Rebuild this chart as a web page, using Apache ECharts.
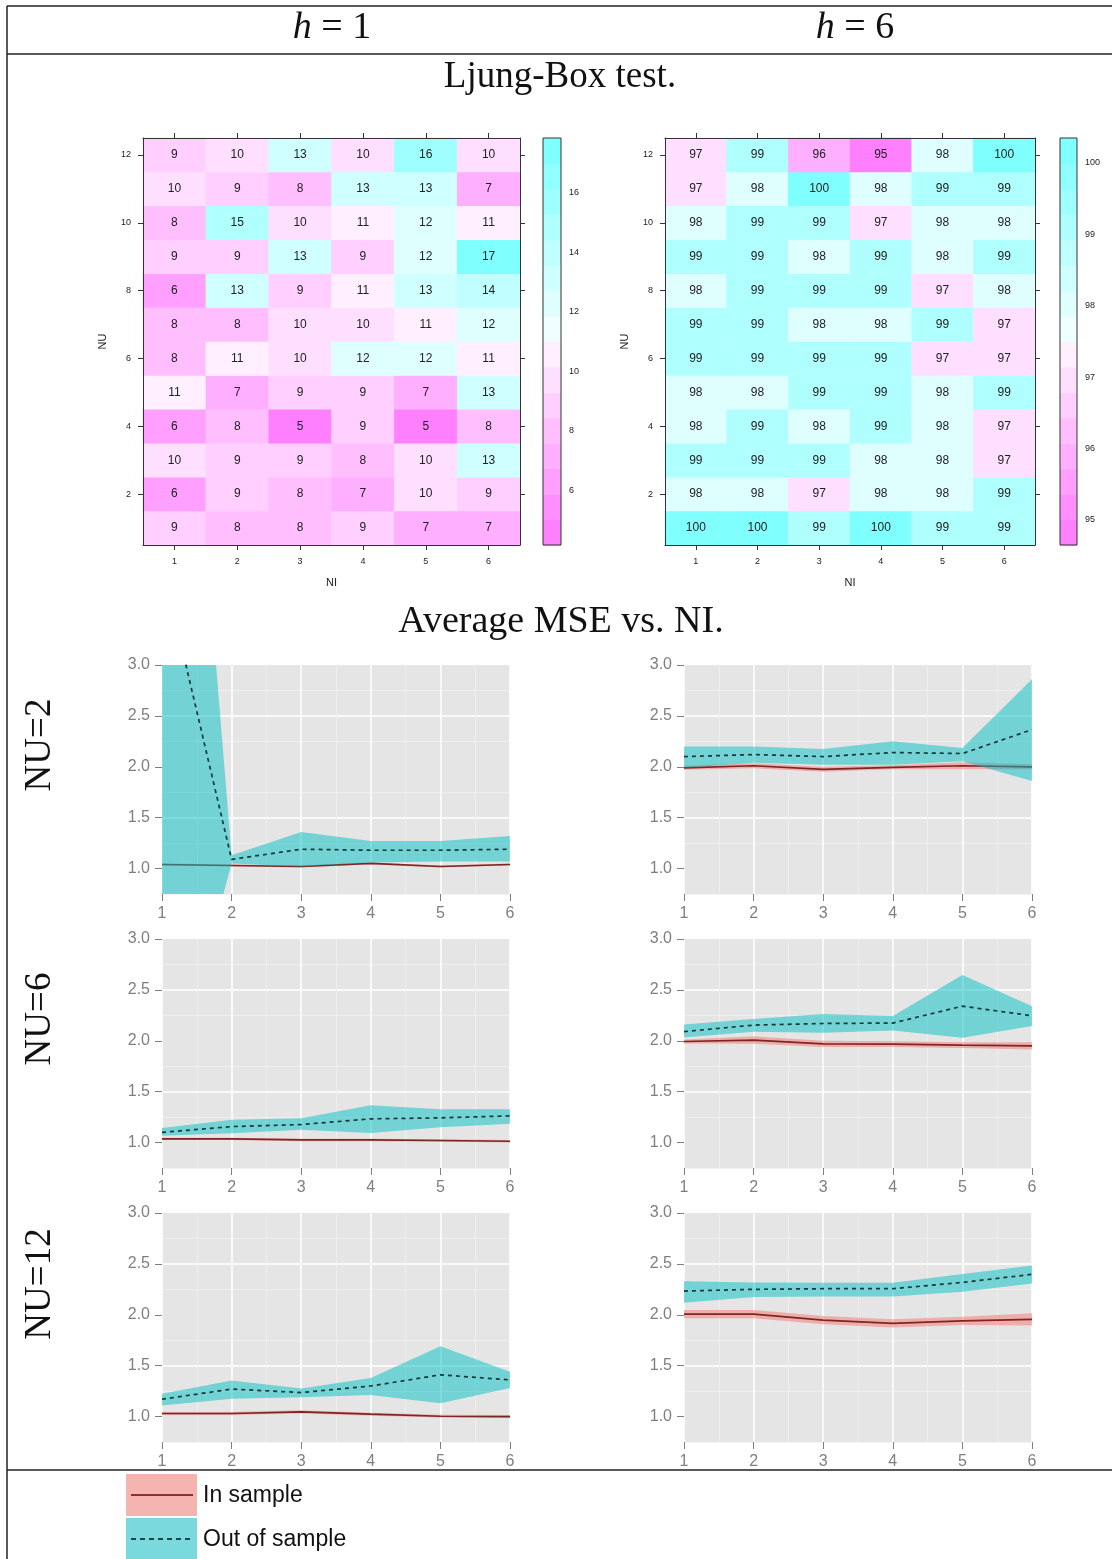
<!DOCTYPE html>
<html><head><meta charset="utf-8">
<script src="https://cdn.jsdelivr.net/npm/echarts@6/dist/echarts.min.js"></script>
<style>html,body{margin:0;padding:0;background:#fff}#c{width:1112px;height:1559px}</style>
</head><body><div id="c"></div>
<script>
// ---------- DATA ----------
const NI = ['1','2','3','4','5','6'];
const NU = ['1','2','3','4','5','6','7','8','9','10','11','12'];
// Ljung-Box results, rows NU = 1..12 (bottom to top), columns NI = 1..6
const lbH1 = [
  [9,8,8,9,7,7],
  [6,9,8,7,10,9],
  [10,9,9,8,10,13],
  [6,8,5,9,5,8],
  [11,7,9,9,7,13],
  [8,11,10,12,12,11],
  [8,8,10,10,11,12],
  [6,13,9,11,13,14],
  [9,9,13,9,12,17],
  [8,15,10,11,12,11],
  [10,9,8,13,13,7],
  [9,10,13,10,16,10]
];
const lbH6 = [
  [100,100,99,100,99,99],
  [98,98,97,98,98,99],
  [99,99,99,98,98,97],
  [98,99,98,99,98,97],
  [98,98,99,99,98,99],
  [99,99,99,99,97,97],
  [99,99,98,98,99,97],
  [98,99,99,99,97,98],
  [99,99,98,99,98,99],
  [98,99,99,97,98,98],
  [97,98,100,98,99,99],
  [97,99,96,95,98,100]
];
const cbRangeH1 = [4.16, 17.84];
const cbRangeH6 = [94.65, 100.35];
const cbTicksH1 = [6,8,10,12,14,16];
const cbTicksH6 = [95,96,97,98,99,100];

// Average MSE vs NI
const xNI = [1,2,3,4,5,6];
const yTicks = [1.0,1.5,2.0,2.5,3.0];
// NU=2, h=1
const nu2h1InMean  = [1.04,1.03,1.02,1.05,1.02,1.04];
const nu2h1InLo    = [1.03,1.02,1.01,1.04,1.01,1.03];
const nu2h1InHi    = [1.05,1.04,1.03,1.06,1.03,1.05];
const nu2h1OutMean = [4.0,1.09,1.19,1.18,1.18,1.19];
const nu2h1OutLo   = [-1.5,1.05,1.02,1.06,1.07,1.07];
const nu2h1OutHi   = [9.5,1.13,1.36,1.27,1.27,1.32];
// NU=2, h=6
const nu2h6InMean  = [1.99,2.01,1.975,1.995,2.01,2.0];
const nu2h6InLo    = [1.97,1.985,1.95,1.975,1.975,1.975];
const nu2h6InHi    = [2.01,2.035,2.0,2.015,2.045,2.025];
const nu2h6OutMean = [2.10,2.12,2.10,2.14,2.13,2.365];
const nu2h6OutLo   = [1.99,2.04,2.02,2.02,2.055,1.86];
const nu2h6OutHi   = [2.20,2.20,2.175,2.25,2.185,2.86];
// NU=6, h=1
const nu6h1InMean  = [1.036,1.036,1.026,1.026,1.02,1.013];
const nu6h1InLo    = [1.024,1.024,1.014,1.014,1.008,1.001];
const nu6h1InHi    = [1.048,1.048,1.038,1.038,1.032,1.025];
const nu6h1OutMean = [1.10,1.157,1.177,1.233,1.243,1.262];
const nu6h1OutLo   = [1.066,1.092,1.125,1.095,1.15,1.184];
const nu6h1OutHi   = [1.144,1.223,1.24,1.367,1.328,1.328];
// NU=6, h=6
const nu6h6InMean  = [1.993,2.007,1.97,1.967,1.957,1.95];
const nu6h6InLo    = [1.973,1.97,1.94,1.94,1.93,1.915];
const nu6h6InHi    = [2.013,2.045,2.0,1.995,1.985,1.985];
const nu6h6OutMean = [2.09,2.154,2.17,2.174,2.34,2.246];
const nu6h6OutLo   = [2.033,2.089,2.08,2.10,2.03,2.144];
const nu6h6OutHi   = [2.16,2.213,2.262,2.243,2.646,2.34];
// NU=12, h=1
const nu12h1InMean  = [1.03,1.03,1.046,1.023,1.003,1.0];
const nu12h1InLo    = [1.015,1.015,1.03,1.008,0.99,0.985];
const nu12h1InHi    = [1.045,1.045,1.062,1.038,1.018,1.015];
const nu12h1OutMean = [1.17,1.27,1.236,1.30,1.41,1.36];
const nu12h1OutLo   = [1.108,1.174,1.19,1.213,1.13,1.28];
const nu12h1OutHi   = [1.223,1.354,1.275,1.38,1.69,1.44];
// NU=12, h=6
const nu12h6InMean  = [2.007,2.007,1.948,1.915,1.94,1.954];
const nu12h6InLo    = [1.967,1.967,1.908,1.875,1.90,1.894];
const nu12h6InHi    = [2.047,2.047,1.988,1.955,1.98,2.014];
const nu12h6OutMean = [2.233,2.25,2.256,2.256,2.318,2.397];
const nu12h6OutLo   = [2.118,2.174,2.18,2.18,2.226,2.308];
const nu12h6OutHi   = [2.33,2.318,2.315,2.315,2.40,2.485];

const panels = [
  [nu2h1InMean,nu2h1InLo,nu2h1InHi,nu2h1OutMean,nu2h1OutLo,nu2h1OutHi],
  [nu2h6InMean,nu2h6InLo,nu2h6InHi,nu2h6OutMean,nu2h6OutLo,nu2h6OutHi],
  [nu6h1InMean,nu6h1InLo,nu6h1InHi,nu6h1OutMean,nu6h1OutLo,nu6h1OutHi],
  [nu6h6InMean,nu6h6InLo,nu6h6InHi,nu6h6OutMean,nu6h6OutLo,nu6h6OutHi],
  [nu12h1InMean,nu12h1InLo,nu12h1InHi,nu12h1OutMean,nu12h1OutLo,nu12h1OutHi],
  [nu12h6InMean,nu12h6InLo,nu12h6InHi,nu12h6OutMean,nu12h6OutLo,nu12h6OutHi]
];

// ---------- STYLE / LAYOUT ----------
const palette = ['#FF80FF','#FF8FFF','#FF9FFF','#FFAFFF','#FFBFFF','#FFCFFF','#FFDFFF','#FFEFFF',
                 '#EFFFFF','#DFFFFF','#CFFFFF','#BFFFFF','#AFFFFF','#9FFFFF','#8FFFFF','#80FFFF'];
const heatGrids = [{left:143, top:138, width:377, height:407}, {left:665, top:138, width:370, height:407}];
const cbGrids = [{left:543, top:138, width:18, height:407}, {left:1060, top:138, width:17, height:407}];
const panelLeft = [162, 684], panelTop = [665, 939, 1213], panelW = 348, panelH = 229;
const SANS = 'Liberation Sans', SERIF = 'Liberation Serif';
const GREY = '#7F7F7F';
const pinkBand = 'rgba(248,118,109,0.5)', cyanBand = 'rgba(0,191,196,0.5)';
const inLineColor = '#7E2626', outLineColor = '#163838';

// right-closed intervals (a, b], lowest included
function makePieces(r) {
  const step = (r[1]-r[0])/palette.length;
  return palette.map((c,i)=>{
    const lo = r[0]+i*step, hi = r[0]+(i+1)*step + 1e-9;
    return i===0 ? {gte: lo-1e-9, lte: hi, color:c} : {gt: lo+1e-9, lte: hi, color:c};
  });
}
function makeBands(r) {
  const step = (r[1]-r[0])/palette.length;
  return palette.map((c,i)=>[r[0]+i*step, r[0]+(i+1)*step, r[0]+(i+0.5)*step]);
}

const grid = [], xAxis = [], yAxis = [], series = [], visualMap = [], graphic = [];

[[lbH1, cbRangeH1, cbTicksH1],[lbH6, cbRangeH6, cbTicksH6]].forEach(([vals, rng, ticks], k) => {
  const hg = 2*k, cg = 2*k+1;
  grid.push(Object.assign({}, heatGrids[k]), Object.assign({}, cbGrids[k]));
  const tickStyle = {color:'#333', width:1};
  const evenFn = (idx) => idx % 2 === 1;
  xAxis.push(
    {gridIndex:hg, type:'category', data:NI, position:'bottom', z:10,
     axisLine:{show:true, lineStyle:tickStyle}, axisTick:{show:true, alignWithLabel:true, length:5, lineStyle:tickStyle},
     axisLabel:{fontSize:9, color:'#222', margin:12, fontFamily:SANS}, splitLine:{show:false},
     name:'NI', nameLocation:'middle', nameGap:32, nameTextStyle:{fontSize:11, color:'#222', fontFamily:SANS}},
    {gridIndex:hg, type:'category', data:NI, position:'top', z:10,
     axisLine:{show:true, lineStyle:tickStyle}, axisTick:{show:true, alignWithLabel:true, length:5, lineStyle:tickStyle},
     axisLabel:{show:false}, splitLine:{show:false}},
    {gridIndex:cg, type:'value', min:0, max:1, show:false}
  );
  yAxis.push(
    {gridIndex:hg, type:'category', data:NU, position:'left', z:10,
     axisLine:{show:true, lineStyle:tickStyle}, axisTick:{show:true, alignWithLabel:true, length:5, interval:evenFn, lineStyle:tickStyle},
     axisLabel:{fontSize:9, color:'#222', margin:12, interval:evenFn, fontFamily:SANS}, splitLine:{show:false},
     name:'NU', nameLocation:'middle', nameGap:35, nameTextStyle:{fontSize:11, color:'#222', fontFamily:SANS}},
    {gridIndex:hg, type:'category', data:NU, position:'right', z:10,
     axisLine:{show:true, lineStyle:tickStyle}, axisTick:{show:true, alignWithLabel:true, length:5, interval:evenFn, lineStyle:tickStyle},
     axisLabel:{show:false}, splitLine:{show:false}},
    {gridIndex:cg, type:'value', min:rng[0], max:rng[1], position:'right',
     axisLine:{show:false}, splitLine:{show:false},
     axisTick:{show:true, length:4, customValues:ticks, lineStyle:tickStyle},
     axisLabel:{show:true, customValues:ticks, fontSize:9, color:'#222', margin:8, fontFamily:SANS}}
  );
  const data = [];
  vals.forEach((row,i)=>row.forEach((v,j)=>data.push([j,i,v])));
  series.push({
    type:'heatmap', xAxisIndex:3*k, yAxisIndex:3*k, data, silent:true,
    label:{show:true, formatter:p=>p.value[2], fontSize:12, color:'#222', fontFamily:SANS},
    itemStyle:{borderWidth:0}, emphasis:{disabled:true}
  });
  series.push({
    type:'custom', coordinateSystem:'cartesian2d', xAxisIndex:3*k+2, yAxisIndex:3*k+2, silent:true,
    data: makeBands(rng),
    renderItem:(params, api)=>{
      const p0 = api.coord([0, api.value(1)]), p1 = api.coord([1, api.value(0)]);
      return {type:'rect', shape:{x:p0[0], y:p0[1], width:p1[0]-p0[0], height:p1[1]-p0[1]+0.5},
              style:{fill: api.visual('color')}};
    }
  });
  visualMap.push({type:'piecewise', show:false, seriesIndex:[2*k, 2*k+1], dimension:2, pieces:makePieces(rng)});
  const cgr = cbGrids[k];
  graphic.push({type:'rect', z:100, shape:{x:cgr.left, y:cgr.top, width:cgr.width, height:cgr.height},
                style:{fill:'none', stroke:'#333', lineWidth:1}});
});

function bandRender(color) {
  return (params, api) => {
    if (params.dataIndexInside !== 0) return null;
    const n = params.dataInsideLength;
    const top = [], bot = [];
    for (let i = 0; i < n; i++) {
      top.push(api.coord([api.value(0, i), api.value(2, i)]));
      bot.push(api.coord([api.value(0, i), api.value(1, i)]));
    }
    const cs = params.coordSys;
    return {type:'group',
      clipPath:{type:'rect', shape:{x:cs.x, y:cs.y, width:cs.width, height:cs.height}},
      children:[{type:'polygon', shape:{points: top.concat(bot.reverse())}, style:{fill: color, stroke:'none'}}]};
  };
}

panels.forEach((P, p) => {
  const col = p % 2, row = Math.floor(p/2);
  const g = 4 + p;
  grid.push({left:panelLeft[col], top:panelTop[row], width:panelW, height:panelH, show:true,
             backgroundColor:'#E5E5E5', borderWidth:0});
  xAxis.push({gridIndex:g, type:'value', min:1, max:6, interval:1,
    axisLine:{show:false}, axisTick:{show:true, length:7, lineStyle:{color:GREY, width:1}},
    axisLabel:{fontSize:16, color:GREY, margin:12, fontFamily:SANS},
    splitLine:{show:true, lineStyle:{color:'#FFFFFF', width:1.5}},
    minorTick:{show:false, splitNumber:2},
    minorSplitLine:{show:true, lineStyle:{color:'#F0F0F0', width:0.8}}});
  yAxis.push(
    {gridIndex:g, type:'value', min:0.75, max:3, interval:0.25, position:'left',
     axisLine:{show:false}, axisTick:{show:false}, axisLabel:{show:false},
     splitLine:{show:true, lineStyle:{color:['#F0F0F0','rgba(0,0,0,0)'], width:0.8}}},
    {gridIndex:g, type:'value', min:0.75, max:3, interval:0.25, position:'left',
     axisLine:{show:false},
     axisTick:{show:true, length:7, customValues:yTicks, lineStyle:{color:GREY, width:1}},
     axisLabel:{show:true, customValues:yTicks, formatter:v=>Number(v).toFixed(1), fontSize:16, color:GREY, margin:12, fontFamily:SANS},
     splitLine:{show:true, lineStyle:{color:['rgba(0,0,0,0)','#FFFFFF'], width:1.5}}}
  );
  const xi = 6 + p, yi = 7 + 2*p;
  const [inM, inLo, inHi, outM, outLo, outHi] = P;
  const band = (lo, hi, color, z) => ({
    type:'custom', coordinateSystem:'cartesian2d', xAxisIndex:xi, yAxisIndex:yi, silent:true, clip:true, z,
    data: xNI.map((x,i)=>[x, lo[i], hi[i]]), encode:{x:0, y:[1,2]}, renderItem: bandRender(color)
  });
  const base = {type:'line', xAxisIndex:xi, yAxisIndex:yi, symbol:'none', silent:true, animation:false, clip:true};
  series.push(band(inLo, inHi, pinkBand, 2));
  series.push(Object.assign({}, base, {z:3, data:xNI.map((x,i)=>[x, inM[i]]), lineStyle:{color:inLineColor, width:1.7}}));
  series.push(band(outLo, outHi, cyanBand, 4));
  series.push(Object.assign({}, base, {z:5, data:xNI.map((x,i)=>[x, outM[i]]), lineStyle:{color:outLineColor, width:1.7, type:[4,4]}}));
});

// table frame
const frame = {stroke:'#222', lineWidth:1.5};
graphic.push(
  {type:'line', shape:{x1:7, y1:6, x2:1112, y2:6}, style:frame},
  {type:'line', shape:{x1:7, y1:54, x2:1112, y2:54}, style:frame},
  {type:'line', shape:{x1:7, y1:1470, x2:1112, y2:1470}, style:frame},
  {type:'line', shape:{x1:7, y1:6, x2:7, y2:1559}, style:frame}
);
const txt = (text, x, y, size, extra) => Object.assign({type:'text', x, y, style:Object.assign({
  text, fontSize:size, fontFamily:SERIF, fill:'#111', align:'center', verticalAlign:'middle',
  textAlign:'center', textVerticalAlign:'middle'}, extra||{})});
graphic.push(
  txt('{i|h} = 1', 332, 28, 38, {rich:{i:{fontStyle:'italic', fontSize:38, fontFamily:SERIF}}}),
  txt('{i|h} = 6', 855, 28, 38, {rich:{i:{fontStyle:'italic', fontSize:38, fontFamily:SERIF}}}),
  txt('Ljung-Box test.', 560, 77, 37),
  txt('Average MSE vs. NI.', 561, 622, 38),
  Object.assign(txt('NU=2', 40, 745, 37), {rotation:Math.PI/2}),
  Object.assign(txt('NU=6', 40, 1019, 37), {rotation:Math.PI/2}),
  Object.assign(txt('NU=12', 40, 1284, 37), {rotation:Math.PI/2})
);
// legend
graphic.push(
  {type:'rect', shape:{x:126, y:1474, width:71, height:42}, style:{fill:'#F5B4B0'}},
  {type:'line', shape:{x1:131, y1:1495, x2:193, y2:1495}, style:{stroke:'#8A3232', lineWidth:2}},
  {type:'rect', shape:{x:126, y:1518, width:71, height:41}, style:{fill:'#7AD9DC'}},
  {type:'line', shape:{x1:131, y1:1539, x2:193, y2:1539}, style:{stroke:'#1A4545', lineWidth:2, lineDash:[5,4]}},
  {type:'text', x:203, y:1496, style:{text:'In sample', fontSize:23, fontFamily:SANS, fill:'#111', verticalAlign:'middle', textVerticalAlign:'middle'}},
  {type:'text', x:203, y:1540, style:{text:'Out of sample', fontSize:23, fontFamily:SANS, fill:'#111', verticalAlign:'middle', textVerticalAlign:'middle'}}
);

const chart = echarts.init(document.getElementById('c'), null, {renderer:'canvas', width:1112, height:1559});
chart.setOption({
  animation:false,
  backgroundColor:'#FFFFFF',
  textStyle:{fontFamily:SANS},
  grid, xAxis, yAxis, series, visualMap, graphic
});
</script>
</body></html>
